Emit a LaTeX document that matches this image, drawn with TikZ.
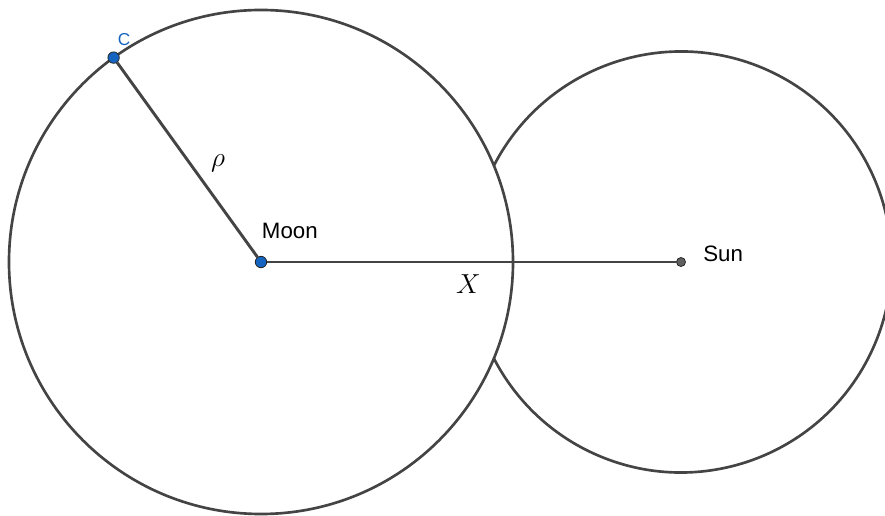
\documentclass[tikz,border=0pt]{standalone}
\usepackage{fontspec}
\setmainfont{Liberation Sans}
\usepackage{tikz}
\usetikzlibrary{positioning}
\definecolor{ink}{HTML}{444444}
\definecolor{ptblue}{HTML}{1565C0}
\definecolor{ptgray}{HTML}{606060}
\tikzset{
  orb/.style   ={draw=ink, line width=2pt},
  seg/.style   ={draw=ink, line width=2.2pt},
  pt/.style    ={circle, draw=black!85, line width=0.6pt, fill=ptblue, inner sep=0pt,
                 minimum size=8.6pt},
  sunpt/.style ={pt, fill=ptgray, minimum size=6.8pt},
  nm/.style    ={font=\fontsize{16.8}{20}\selectfont, inner sep=0pt},
  cl/.style    ={font=\fontsize{13}{16}\selectfont, text=ptblue, inner sep=0pt},
  mth/.style   ={font=\fontsize{20}{24}\selectfont, inner sep=0pt},
}

\begin{document}
\begin{tikzpicture}[x=0.0265cm,y=0.0265cm]
  \useasboundingbox (-261,-254) rectangle (624,262);
  \coordinate (mc) at (0,0);
  \coordinate (sc) at (420,0);
  % the sun's arc stops where it meets the moon's circle
  \draw[orb] (mc) circle[radius=252];
  \draw[orb] (sc) ++(152.7:210.5) arc[start angle=152.7, end angle=-152.7, radius=210.5];

  \node[pt] (c) at (125.8:252) {};
  \node[pt] (moon) at (mc) {};
  \node[sunpt] (sun) at (sc) {};
  \draw[seg] (c) -- (moon);
  \draw[seg] (moon) -- (sun);

  \node[cl,anchor=base west] (clbl) at (-143.3,216) {C};
  \node[nm,anchor=base west] (moonlbl) at (0.7,23) {Moon};
  \node[nm,anchor=base west] (sunlbl) at (442,0) {Sun};
  \node[mth] (rho) at (-43,99) {$\rho$};
  \node[mth] (xlbl) at (207.5,-22.5) {$X$};
\end{tikzpicture}
\end{document}
